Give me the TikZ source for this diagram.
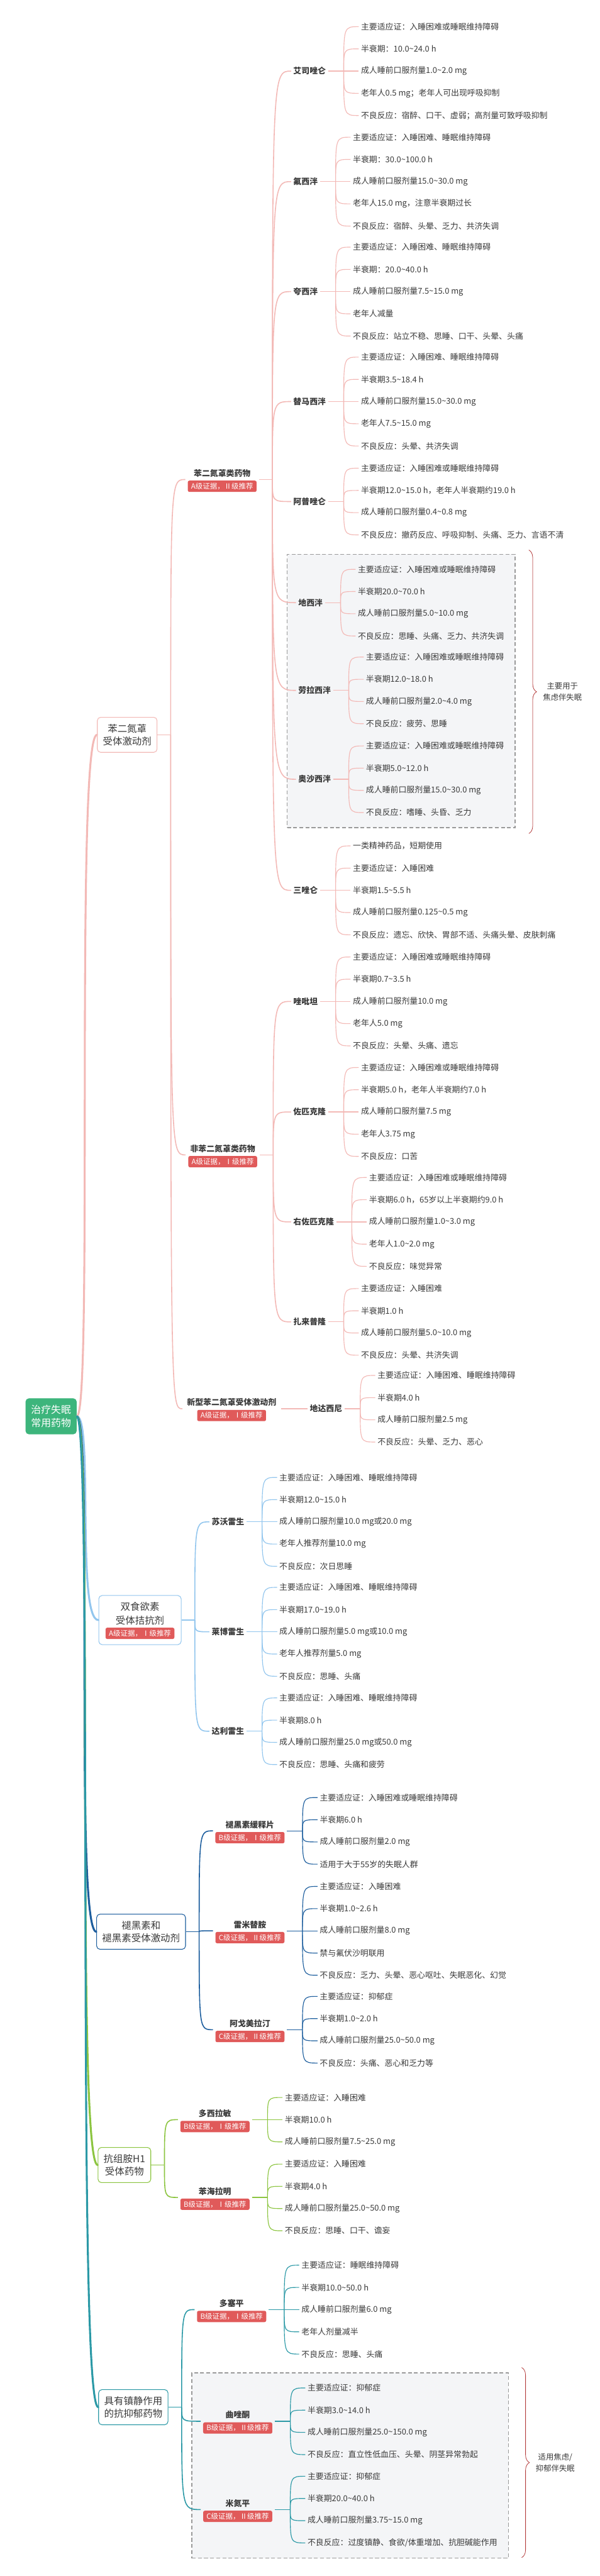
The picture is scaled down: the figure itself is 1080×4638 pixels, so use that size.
\documentclass[tikz,border=0pt]{standalone}
\usepackage{fontspec}
\setmainfont{Noto Sans CJK SC}
\usetikzlibrary{positioning, fit, backgrounds, calc, decorations.pathreplacing}
\definecolor{InkGray}{HTML}{3A3A3A}
\definecolor{BzdPink}{HTML}{F3B9B6}
\definecolor{OrxBlue}{HTML}{92C6EE}
\definecolor{MelNavy}{HTML}{1D5E9E}
\definecolor{HisGreen}{HTML}{8CC540}
\definecolor{DepTeal}{HTML}{2B99A6}
\definecolor{RootGreen}{HTML}{3DB57C}
\definecolor{BadgeRed}{HTML}{E05A5A}
\definecolor{BoxGray}{HTML}{F4F5F7}
\definecolor{DashGray}{HTML}{9A9A9A}
\definecolor{BraceRed}{HTML}{B43C3C}
\newcommand{\tld}{\textasciitilde}
% sub-topics hung on one junction
\newcommand{\fan}[3]{%
    \coordinate (#1-j) at ([xshift=24pt]#1.east);
    \draw[#2] (#1.east) -- (#1-j);
    \foreach \kid in {#3} {\draw[#2] (#1-j) .. controls (#1-j |- \kid.west) .. (\kid.west);}%
}
% facts of one drug, centred on it, 40pt apart
\newcommand{\facts}[4]{%
    \coordinate (#1-j) at ([xshift=28pt]#1.east);
    \draw[twig, #2] (#1.east) -- (#1-j);
    \foreach \txt [count=\i] in {#4} {%
        \node[leaf] (#1-\i) at ($(#1.east)+(55,{(\i-(#3+1)/2)*40})$) {\txt};
        \draw[twig, #2] (#1-j) .. controls (#1-j |- #1-\i.west) .. (#1-\i.west);
    }%
}
\tikzset{
    leaf/.style={anchor=west, text=InkGray, inner sep=4pt, font=\fontsize{14.6}{17}\selectfont},
    drug/.style={text=InkGray, inner sep=4pt, font=\bfseries\fontsize{14.6}{17}\selectfont},
    badge/.style={fill=BadgeRed, text=white, rounded corners=3pt, inner xsep=6pt, inner ysep=4pt, font=\fontsize{13}{15}\selectfont},
    group/.style={inner sep=4pt},
    topic/.style={draw, line width=1.2pt, fill=white, rounded corners=6pt, align=center, text=InkGray, inner xsep=10pt, inner ysep=12pt, font=\fontsize{17.5}{23}\selectfont},
    topictext/.style={align=center, text=InkGray, inner sep=2pt, font=\fontsize{17.5}{24}\selectfont},
    root/.style={fill=RootGreen, text=white, rounded corners=6pt, align=center, inner xsep=10pt, inner ysep=12pt, font=\fontsize{18}{24}\selectfont},
    limb/.style={line width=3.5pt, line cap=round},
    branch/.style={line width=1.8pt},
    twig/.style={line width=1.3pt},
    dashbox/.style={draw=DashGray, dash pattern=on 7pt off 4pt, line width=1.4pt, fill=BoxGray, inner sep=16pt},
    curly/.style={draw=BraceRed, line width=0.9pt, decorate, decoration={brace, amplitude=14pt}},
    note/.style={anchor=west, text=InkGray, align=center, font=\fontsize{14}{21}\selectfont}
}

\begin{document}
\begin{tikzpicture}[x=1pt, y=-1pt]
    \useasboundingbox (0,0) rectangle (1080,4638);

    \node[root] (root) at (92,2550) {治疗失眠\\常用药物};

    % benzodiazepine receptor agonists
    \node[topic, draw=BzdPink] (bzra) at (229,1323) {苯二氮䓬\\受体激动剂};

    \node[drug] (bzd-t) at (400,852) {苯二氮䓬类药物};
    \node[badge, below=2pt of bzd-t] (bzd-b) {A级证据，Ⅱ级推荐};
    \node[group, fit=(bzd-t)(bzd-b)] (bzd) {};
    \node[drug] (nbzd-t) at (401,2068) {非苯二氮䓬类药物};
    \node[badge, below=2pt of nbzd-t] (nbzd-b) {A级证据，Ⅰ级推荐};
    \node[group, fit=(nbzd-t)(nbzd-b)] (nbzd) {};
    \node[drug] (nbzra-t) at (417,2525) {新型苯二氮䓬受体激动剂};
    \node[badge, below=2pt of nbzra-t] (nbzra-b) {A级证据，Ⅰ级推荐};
    \node[group, fit=(nbzra-t)(nbzra-b)] (nbzra) {};

    \node[drug, anchor=west] (esz) at (524,128) {艾司唑仑};
    \node[drug, anchor=west] (fxp) at (524,327) {氟西泮};
    \node[drug, anchor=west] (kxp) at (524,525) {夸西泮};
    \node[drug, anchor=west] (tmxp) at (524,723) {替马西泮};
    \node[drug, anchor=west] (apzl) at (524,903) {阿普唑仑};
    \node[drug, anchor=west] (dxp) at (533,1085) {地西泮};
    \node[drug, anchor=west] (llxp) at (533,1243) {劳拉西泮};
    \node[drug, anchor=west] (oxp) at (533,1403) {奥沙西泮};
    \node[drug, anchor=west] (szl) at (524,1603) {三唑仑};
    \node[drug, anchor=west] (zpt) at (524,1803) {唑吡坦};
    \node[drug, anchor=west] (zpkl) at (524,2002) {佐匹克隆};
    \node[drug, anchor=west] (yzpkl) at (524,2200) {右佐匹克隆};
    \node[drug, anchor=west] (zlpl) at (524,2380) {扎来普隆};
    \node[drug, right=48pt of nbzra] (ddxn) {地达西尼};

    \facts{esz}{BzdPink}{5}{{主要适应证：入睡困难或睡眠维持障碍},{半衰期：10.0\tld 24.0 h},{成人睡前口服剂量1.0\tld 2.0 mg},{老年人0.5 mg；老年人可出现呼吸抑制},{不良反应：宿醉、口干、虚弱；高剂量可致呼吸抑制}}
    \facts{fxp}{BzdPink}{5}{{主要适应证：入睡困难、睡眠维持障碍},{半衰期：30.0\tld 100.0 h},{成人睡前口服剂量15.0\tld 30.0 mg},{老年人15.0 mg，注意半衰期过长},{不良反应：宿醉、头晕、乏力、共济失调}}
    \facts{kxp}{BzdPink}{5}{{主要适应证：入睡困难、睡眠维持障碍},{半衰期：20.0\tld 40.0 h},{成人睡前口服剂量7.5\tld 15.0 mg},{老年人减量},{不良反应：站立不稳、思睡、口干、头晕、头痛}}
    \facts{tmxp}{BzdPink}{5}{{主要适应证：入睡困难、睡眠维持障碍},{半衰期3.5\tld 18.4 h},{成人睡前口服剂量15.0\tld 30.0 mg},{老年人7.5\tld 15.0 mg},{不良反应：头晕、共济失调}}
    \facts{apzl}{BzdPink}{4}{{主要适应证：入睡困难或睡眠维持障碍},{半衰期12.0\tld 15.0 h，老年人半衰期约19.0 h},{成人睡前口服剂量0.4\tld 0.8 mg},{不良反应：撤药反应、呼吸抑制、头痛、乏力、言语不清}}
    \facts{dxp}{BzdPink}{4}{{主要适应证：入睡困难或睡眠维持障碍},{半衰期20.0\tld 70.0 h},{成人睡前口服剂量5.0\tld 10.0 mg},{不良反应：思睡、头痛、乏力、共济失调}}
    \facts{llxp}{BzdPink}{4}{{主要适应证：入睡困难或睡眠维持障碍},{半衰期12.0\tld 18.0 h},{成人睡前口服剂量2.0\tld 4.0 mg},{不良反应：疲劳、思睡}}
    \facts{oxp}{BzdPink}{4}{{主要适应证：入睡困难或睡眠维持障碍},{半衰期5.0\tld 12.0 h},{成人睡前口服剂量15.0\tld 30.0 mg},{不良反应：嗜睡、头昏、乏力}}
    \facts{szl}{BzdPink}{5}{{一类精神药品，短期使用},{主要适应证：入睡困难},{半衰期1.5\tld 5.5 h},{成人睡前口服剂量0.125\tld 0.5 mg},{不良反应：遗忘、欣快、胃部不适、头痛头晕、皮肤刺痛}}
    \facts{zpt}{BzdPink}{5}{{主要适应证：入睡困难或睡眠维持障碍},{半衰期0.7\tld 3.5 h},{成人睡前口服剂量10.0 mg},{老年人5.0 mg},{不良反应：头晕、头痛、遗忘}}
    \facts{zpkl}{BzdPink}{5}{{主要适应证：入睡困难或睡眠维持障碍},{半衰期5.0 h，老年人半衰期约7.0 h},{成人睡前口服剂量7.5 mg},{老年人3.75 mg},{不良反应：口苦}}
    \facts{yzpkl}{BzdPink}{5}{{主要适应证：入睡困难或睡眠维持障碍},{半衰期6.0 h，65岁以上半衰期约9.0 h},{成人睡前口服剂量1.0\tld 3.0 mg},{老年人1.0\tld 2.0 mg},{不良反应：味觉异常}}
    \facts{zlpl}{BzdPink}{4}{{主要适应证：入睡困难},{半衰期1.0 h},{成人睡前口服剂量5.0\tld 10.0 mg},{不良反应：头晕、共济失调}}
    \facts{ddxn}{BzdPink}{4}{{主要适应证：入睡困难、睡眠维持障碍},{半衰期4.0 h},{成人睡前口服剂量2.5 mg},{不良反应：头晕、乏力、恶心}}

    % dual orexin receptor antagonists
    \node[topictext] (dora-t) at (252,2905) {双食欲素\\受体拮抗剂};
    \node[badge, below=3pt of dora-t] (dora-b) {A级证据，Ⅰ级推荐};
    \node[drug, anchor=west] (swls) at (377,2740) {苏沃雷生};
    \node[drug, anchor=west] (lbls) at (377,2938) {莱博雷生};
    \node[drug, anchor=west] (dlls) at (377,3117) {达利雷生};
    \facts{swls}{OrxBlue}{5}{{主要适应证：入睡困难、睡眠维持障碍},{半衰期12.0\tld 15.0 h},{成人睡前口服剂量10.0 mg或20.0 mg},{老年人推荐剂量10.0 mg},{不良反应：次日思睡}}
    \facts{lbls}{OrxBlue}{5}{{主要适应证：入睡困难、睡眠维持障碍},{半衰期17.0\tld 19.0 h},{成人睡前口服剂量5.0 mg或10.0 mg},{老年人推荐剂量5.0 mg},{不良反应：思睡、头痛}}
    \facts{dlls}{OrxBlue}{4}{{主要适应证：入睡困难、睡眠维持障碍},{半衰期8.0 h},{成人睡前口服剂量25.0 mg或50.0 mg},{不良反应：思睡、头痛和疲劳}}

    % melatonin and its receptor agonists
    \node[topic, draw=MelNavy] (mlt) at (254,3478) {褪黑素和\\褪黑素受体激动剂};
    \node[drug] (mel-t) at (450,3285) {褪黑素缓释片};
    \node[badge, below=2pt of mel-t] (mel-b) {B级证据，Ⅰ级推荐};
    \node[group, fit=(mel-t)(mel-b)] (mel) {};
    \node[drug] (rmt-t) at (450,3465) {雷米替胺};
    \node[badge, below=2pt of rmt-t] (rmt-b) {C级证据，Ⅱ级推荐};
    \node[group, fit=(rmt-t)(rmt-b)] (rmt) {};
    \node[drug] (agm-t) at (450,3643) {阿戈美拉汀};
    \node[badge, below=2pt of agm-t] (agm-b) {C级证据，Ⅱ级推荐};
    \node[group, fit=(agm-t)(agm-b)] (agm) {};
    \facts{mel}{MelNavy}{4}{{主要适应证：入睡困难或睡眠维持障碍},{半衰期6.0 h},{成人睡前口服剂量2.0 mg},{适用于大于55岁的失眠人群}}
    \facts{rmt}{MelNavy}{5}{{主要适应证：入睡困难},{半衰期1.0\tld 2.6 h},{成人睡前口服剂量8.0 mg},{禁与氟伏沙明联用},{不良反应：乏力、头晕、恶心呕吐、失眠恶化、幻觉}}
    \facts{agm}{MelNavy}{4}{{主要适应证：抑郁症},{半衰期1.0\tld 2.0 h},{成人睡前口服剂量25.0\tld 50.0 mg},{不良反应：头痛、恶心和乏力等}}

    % H1 antihistamines
    \node[topic, draw=HisGreen] (hist) at (224,3898) {抗组胺H1\\受体药物};
    \node[drug] (dxl-t) at (387,3805) {多西拉敏};
    \node[badge, below=2pt of dxl-t] (dxl-b) {B级证据，Ⅰ级推荐};
    \node[group, fit=(dxl-t)(dxl-b)] (dxl) {};
    \node[drug] (bhl-t) at (387,3945) {苯海拉明};
    \node[badge, below=2pt of bhl-t] (bhl-b) {B级证据，Ⅰ级推荐};
    \node[group, fit=(bhl-t)(bhl-b)] (bhl) {};
    \facts{dxl}{HisGreen}{3}{{主要适应证：入睡困难},{半衰期10.0 h},{成人睡前口服剂量7.5\tld 25.0 mg}}
    \facts{bhl}{HisGreen}{4}{{主要适应证：入睡困难},{半衰期4.0 h},{成人睡前口服剂量25.0\tld 50.0 mg},{不良反应：思睡、口干、谵妄}}

    % sedating antidepressants
    \node[topic, draw=DepTeal] (adp) at (240,4334) {具有镇静作用\\的抗抑郁药物};
    \node[drug] (dsp-t) at (417,4147) {多塞平};
    \node[badge, below=2pt of dsp-t] (dsp-b) {B级证据，Ⅰ级推荐};
    \node[group, fit=(dsp-t)(dsp-b)] (dsp) {};
    \node[drug] (qzt-t) at (428,4348) {曲唑酮};
    \node[badge, below=2pt of qzt-t] (qzt-b) {B级证据，Ⅱ级推荐};
    \node[group, fit=(qzt-t)(qzt-b)] (qzt) {};
    \node[drug] (mdp-t) at (428,4507) {米氮平};
    \node[badge, below=2pt of mdp-t] (mdp-b) {C级证据，Ⅱ级推荐};
    \node[group, fit=(mdp-t)(mdp-b)] (mdp) {};
    \facts{dsp}{DepTeal}{5}{{主要适应证：睡眠维持障碍},{半衰期10.0\tld 50.0 h},{成人睡前口服剂量6.0 mg},{老年人剂量减半},{不良反应：思睡、头痛}}
    \facts{qzt}{DepTeal}{4}{{主要适应证：抑郁症},{半衰期3.0\tld 14.0 h},{成人睡前口服剂量25.0\tld 150.0 mg},{不良反应：直立性低血压、头晕、阴茎异常勃起}}
    \facts{mdp}{DepTeal}{4}{{主要适应证：抑郁症},{半衰期20.0\tld 40.0 h},{成人睡前口服剂量3.75\tld 15.0 mg},{不良反应：过度镇静、食欲/体重增加、抗胆碱能作用}}

    \begin{scope}[on background layer]
        \fill[white] (0,0) rectangle (1080,4638);
        \node[dashbox, fit=(dxp)(dxp-1)(llxp-1)(oxp-4)] (anx) {};
        \node[dashbox, fit=(qzt)(qzt-1)(mdp-4)] (sed) {};
        \node[topic, draw=OrxBlue, fit=(dora-t)(dora-b), inner xsep=12pt, inner ysep=10pt] (dora) {};
    \end{scope}

    \fan{bzra}{branch, BzdPink}{bzd,nbzd,nbzra}
    \fan{bzd}{branch, BzdPink}{esz,fxp,kxp,tmxp,apzl,dxp,llxp,oxp,szl}
    \fan{nbzd}{branch, BzdPink}{zpt,zpkl,yzpkl,zlpl}
    \draw[branch, BzdPink] (nbzra) -- (ddxn);
    \fan{dora}{branch, OrxBlue}{swls,lbls,dlls}
    \fan{mlt}{branch, MelNavy}{mel,rmt,agm}
    \fan{hist}{branch, HisGreen}{dxl,bhl}
    \fan{adp}{branch, DepTeal}{dsp,qzt,mdp}

    \foreach \tpc/\col in {bzra/BzdPink, dora/OrxBlue, mlt/MelNavy, hist/HisGreen, adp/DepTeal}
        \draw[limb, \col] (root.east) .. controls +(30,0) and +(-40,0) .. (\tpc.west);

    \coordinate (anx-t) at ($(anx.north east)+(24,-7)$);
    \coordinate (anx-b) at ($(anx.south east)+(24,10)$);
    \draw[curly] (anx-t) -- (anx-b);
    \node[note] (anx-l) at ($(anx-t)!0.5!(anx-b)+(22,0)$) {主要用于\\焦虑伴失眠};
    \coordinate (sed-t) at ($(sed.north east)+(23,-9)$);
    \coordinate (sed-b) at ($(sed.south east)+(23,-2)$);
    \draw[curly] (sed-t) -- (sed-b);
    \node[note] (sed-l) at ($(sed-t)!0.5!(sed-b)+(22,0)$) {适用焦虑/\\抑郁伴失眠};
\end{tikzpicture}
\end{document}
